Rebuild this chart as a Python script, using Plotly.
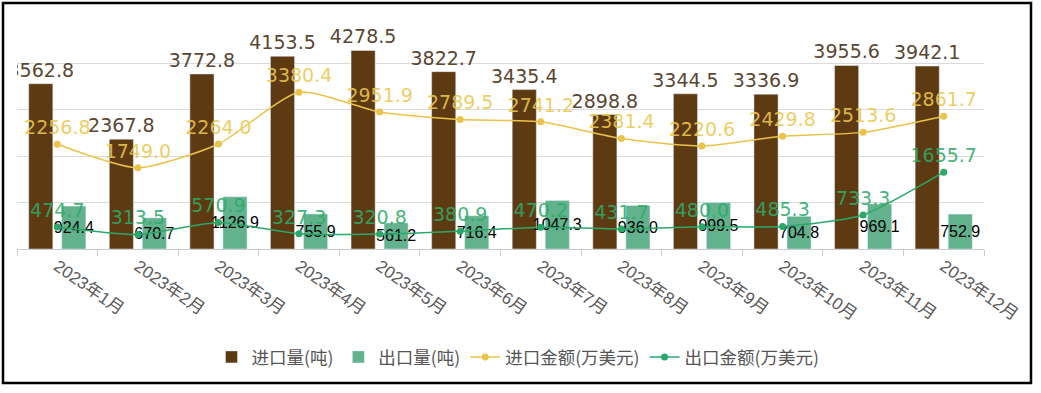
import plotly.graph_objects as go

months = ["2023年1月", "2023年2月", "2023年3月", "2023年4月", "2023年5月", "2023年6月",
          "2023年7月", "2023年8月", "2023年9月", "2023年10月", "2023年11月", "2023年12月"]
import_vol = [3562.8, 2367.8, 3772.8, 4153.5, 4278.5, 3822.7, 3435.4, 2898.8, 3344.5, 3336.9, 3955.6, 3942.1]
export_vol = [924.4, 670.7, 1126.9, 755.9, 561.2, 716.4, 1047.3, 936.0, 999.5, 704.8, 969.1, 752.9]
import_amt = [2256.8, 1749.0, 2264.0, 3380.4, 2951.9, 2789.5, 2741.2, 2381.4, 2220.6, 2429.8, 2513.6, 2861.7]
export_amt = [474.7, 313.5, 570.9, 327.3, 320.8, 380.9, 470.2, 431.7, 480.0, 485.3, 733.3, 1655.7]

names = ["进口量(吨)", "出口量(吨)", "进口金额(万美元)", "出口金额(万美元)"]

BROWN = "#5E3A12"
GREEN_BAR = "#62B28E"
GOLD = "#EBC34A"
GREEN_LINE = "#2AA86A"

W, H = 1041, 393
L, R, T, B = 17, 984, 17, 249  # plot area in pixels
pw, ph = R - L, B - T


def px_x(x):
    return (x - L) / pw


def px_y(y):
    return (B - y) / ph


fmt = lambda v: f"{v:.1f}"

fig = go.Figure()
fig.add_trace(go.Bar(
    x=months, y=import_vol, name=names[0], marker_color=BROWN,
    text=[fmt(v) for v in import_vol], textposition="outside", textangle=0,
    constraintext="none", cliponaxis=True,
    textfont=dict(family="DejaVu Sans", size=19, color="#5A4632"),
))
fig.add_trace(go.Bar(
    x=months, y=export_vol, name=names[1], marker_color=GREEN_BAR,
    text=[fmt(v) for v in export_vol], textposition="inside", textangle=0,
    insidetextanchor="middle", constraintext="none",
    textfont=dict(family="Liberation Sans", size=16, color="#000000"),
))
fig.add_trace(go.Scatter(
    x=months, y=import_amt, name=names[2], mode="lines+markers+text",
    line=dict(color=GOLD, width=1.5, shape="spline", smoothing=0.6),
    marker=dict(color=GOLD, size=7),
    text=[fmt(v) for v in import_amt], textposition="top center",
    textfont=dict(family="DejaVu Sans", size=19, color="rgba(235,200,80,0.9)"),
    cliponaxis=False,
))
fig.add_trace(go.Scatter(
    x=months, y=export_amt, name=names[3], mode="lines+markers+text",
    line=dict(color=GREEN_LINE, width=1.5, shape="spline", smoothing=0.6),
    marker=dict(color=GREEN_LINE, size=7),
    text=[fmt(v) for v in export_amt], textposition="top center",
    textfont=dict(family="DejaVu Sans", size=19, color="rgba(45,170,105,0.9)"),
    cliponaxis=False,
))

fig.update_layout(
    width=W, height=H,
    margin=dict(l=L, r=W - R, t=T, b=H - B, pad=0, autoexpand=False),
    paper_bgcolor="white", plot_bgcolor="white",
    barmode="group", bargap=0.18, bargroupgap=0.27,
    showlegend=True,
    legend=dict(orientation="h", x=px_x(518), xanchor="center", y=px_y(357), yanchor="middle",
                font=dict(family="Noto Sans CJK SC", size=17.5, color="#555555"),
                itemwidth=30, bgcolor="rgba(0,0,0,0)"),
    font=dict(family="Noto Sans CJK SC"),
    shapes=[dict(type="rect", xref="paper", yref="paper",
                 x0=px_x(3), x1=px_x(1031), y0=px_y(383), y1=px_y(3),
                 line=dict(color="black", width=2.5), fillcolor="rgba(0,0,0,0)", layer="above")],
)
fig.update_xaxes(
    automargin=False, type="category", range=[-0.5, len(months) - 0.5], autorange=False,
    showline=True, linecolor="#CCCCCC", linewidth=1,
    ticks="outside", tickson="boundaries", ticklen=6, tickcolor="#CCCCCC",
    tickangle=35, showgrid=False,
    tickfont=dict(family="Liberation Sans, Noto Sans CJK SC", size=17, color="#595959"),
)
fig.update_yaxes(
    automargin=False,
    range=[0, 5000], dtick=1000, showticklabels=False, showgrid=True,
    gridcolor="#DADADA", gridwidth=1, zeroline=False,
)

fig.write_html("out.html", post_script="document.body.style.margin='0';",
               config={"displayModeBar": False})
